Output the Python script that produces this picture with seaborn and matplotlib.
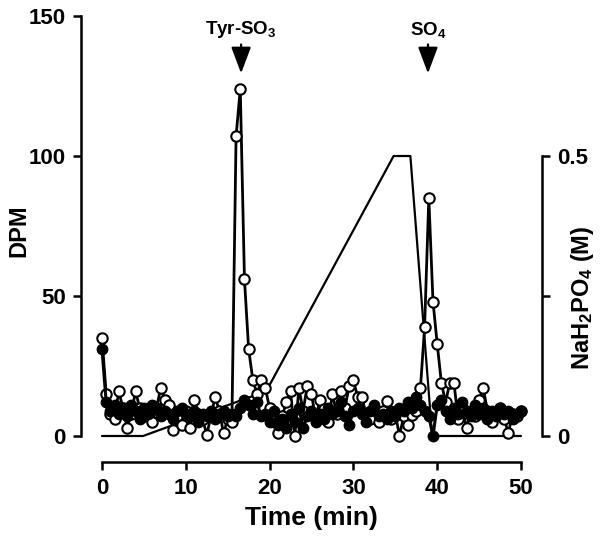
import numpy as np
import pandas as pd
import seaborn as sns
import matplotlib.pyplot as plt

# fractions collected every 30 s
time_min = np.arange(0, 50.5, 0.5)

dpm_open = [35, 15, 8, 6, 16, 10, 3, 8, 16, 10,
            7, 9, 5, 10, 17, 13, 11, 2, 7, 4,
            9, 3, 13, 8, 6, 0.5, 7, 14, 9, 1,
            6, 5, 107, 124, 56, 31, 20, 15, 20, 17,
            10, 8, 1, 7, 12, 16, 0, 17, 9, 18,
            15, 6, 13, 9.5, 5, 15, 8, 16, 10, 18,
            20, 14, 14, 8, 6, 10, 5, 9, 12.5, 6,
            8, 0, 7, 4, 7.5, 9, 17, 39, 85, 48,
            33, 19, 12, 19, 19, 6, 10, 3, 8, 7,
            13, 17, 9, 5, 8, 10, 6, 1, 8, 7, 9]

dpm_filled = [31, 12, 9, 11, 8, 10, 7, 11, 9, 6,
              10, 8, 11, 10, 7, 9, 8, 6, 9, 10,
              8, 7, 9, 5, 8, 7, 9, 6, 8, 9,
              7, 8, 7, 10, 13, 11, 8, 12, 7, 8,
              5, 9, 4, 6, 3, 8, 5, 10, 3, 7,
              9, 5, 8, 6, 10, 8, 9, 12, 7, 4,
              9, 10, 8, 5, 9, 11, 7, 8, 6, 9,
              7, 10, 9, 12, 10, 14, 11, 9, 7, 0,
              11, 13, 9, 6, 10, 8, 12, 9, 7, 11,
              8, 10, 6, 9, 7, 10, 8, 9, 6, 8, 9]

# NaH2PO4 gradient (M)
grad_t = [0, 4.9, 19.6, 34.8, 36.8, 39.4, 50]
grad_m = [0, 0, 0.08, 0.5, 0.5, 0, 0]

# injection markers
inj_t = [16.6, 38.9]
inj_lab = ['Tyr-SO$_3$', 'SO$_4$']

df = pd.DataFrame({'time': time_min, 'open': dpm_open, 'filled': dpm_filled})

sns.set_style('ticks')
plt.rcParams['font.family'] = ['Liberation Sans', 'DejaVu Sans']
plt.rcParams['font.weight'] = 'bold'
plt.rcParams['axes.labelweight'] = 'bold'
plt.rcParams['mathtext.fontset'] = 'custom'
plt.rcParams['mathtext.bf'] = 'Liberation Sans:bold'
plt.rcParams['mathtext.rm'] = 'Liberation Sans:bold'
plt.rcParams['mathtext.default'] = 'bf'
for k in ('text.color', 'axes.labelcolor', 'xtick.color', 'ytick.color', 'axes.edgecolor'):
    plt.rcParams[k] = 'black'

fig = plt.figure(figsize=(6, 5.37), dpi=100)
ax = fig.add_axes([0.17, 0.1881, 0.6983, 0.7821])
ax2 = ax.twinx()

sns.lineplot(x=grad_t, y=grad_m, ax=ax2, color='black', linewidth=1.6, clip_on=False)

sns.lineplot(data=df, x='time', y='open', ax=ax, color='black', linewidth=2.0,
             marker='o', markersize=7.5, markerfacecolor='white',
             markeredgecolor='black', markeredgewidth=1.5, clip_on=False)
sns.lineplot(data=df, x='time', y='filled', ax=ax, color='black', linewidth=2.2,
             marker='o', markersize=7.5, markerfacecolor='black',
             markeredgecolor='black', markeredgewidth=1.0, clip_on=False)

ax.set_zorder(ax2.get_zorder() + 1)
ax.patch.set_visible(False)

ax.set_xlim(0, 50)
ax.set_ylim(0, 150)
ax2.set_ylim(0, 0.75)

ax.set_xticks([0, 10, 20, 30, 40, 50])
ax.set_yticks([0, 50, 100, 150])
ax2.set_yticks([0, 0.25, 0.5])
ax2.set_yticklabels(['0', '', '0.5'])

ax.set_xlabel('Time (min)', fontsize=19, labelpad=5)
ax.set_ylabel('DPM', fontsize=17)
ax2.set_ylabel('NaH$_2$PO$_4$ (M)', fontsize=17)
ax.yaxis.set_label_coords(-0.17, 0.49)
ax2.yaxis.set_label_coords(1.115, 0.33)

for a in (ax, ax2):
    a.tick_params(direction='out', length=6, width=1.8, labelsize=16, pad=5,
                  colors='black')
    a.spines['top'].set_visible(False)
ax.spines['right'].set_visible(False)
ax2.spines['left'].set_visible(False)
ax2.spines['bottom'].set_visible(False)

ax.spines['left'].set_position(('outward', 15))
ax.spines['bottom'].set_position(('outward', 19))
ax2.spines['right'].set_position(('outward', 15))
ax.spines['left'].set_bounds(0, 150)
ax.spines['bottom'].set_bounds(0, 50)
ax2.spines['right'].set_bounds(0, 0.5)
for s in ('left', 'bottom'):
    ax.spines[s].set_linewidth(1.8)
    ax.spines[s].set_color('black')
ax2.spines['right'].set_linewidth(1.8)
ax2.spines['right'].set_color('black')

for t, lab in zip(inj_t, inj_lab):
    ax.annotate(lab, xy=(t, 129.5), xytext=(t, 141.5), ha='center', va='bottom',
                fontsize=13.5, fontweight='bold', color='black', annotation_clip=False,
                arrowprops=dict(arrowstyle='-|>,head_length=1.2,head_width=0.45',
                                color='black', lw=1.6, shrinkA=1, shrinkB=0))

plt.savefig('out.png', dpi=100)
